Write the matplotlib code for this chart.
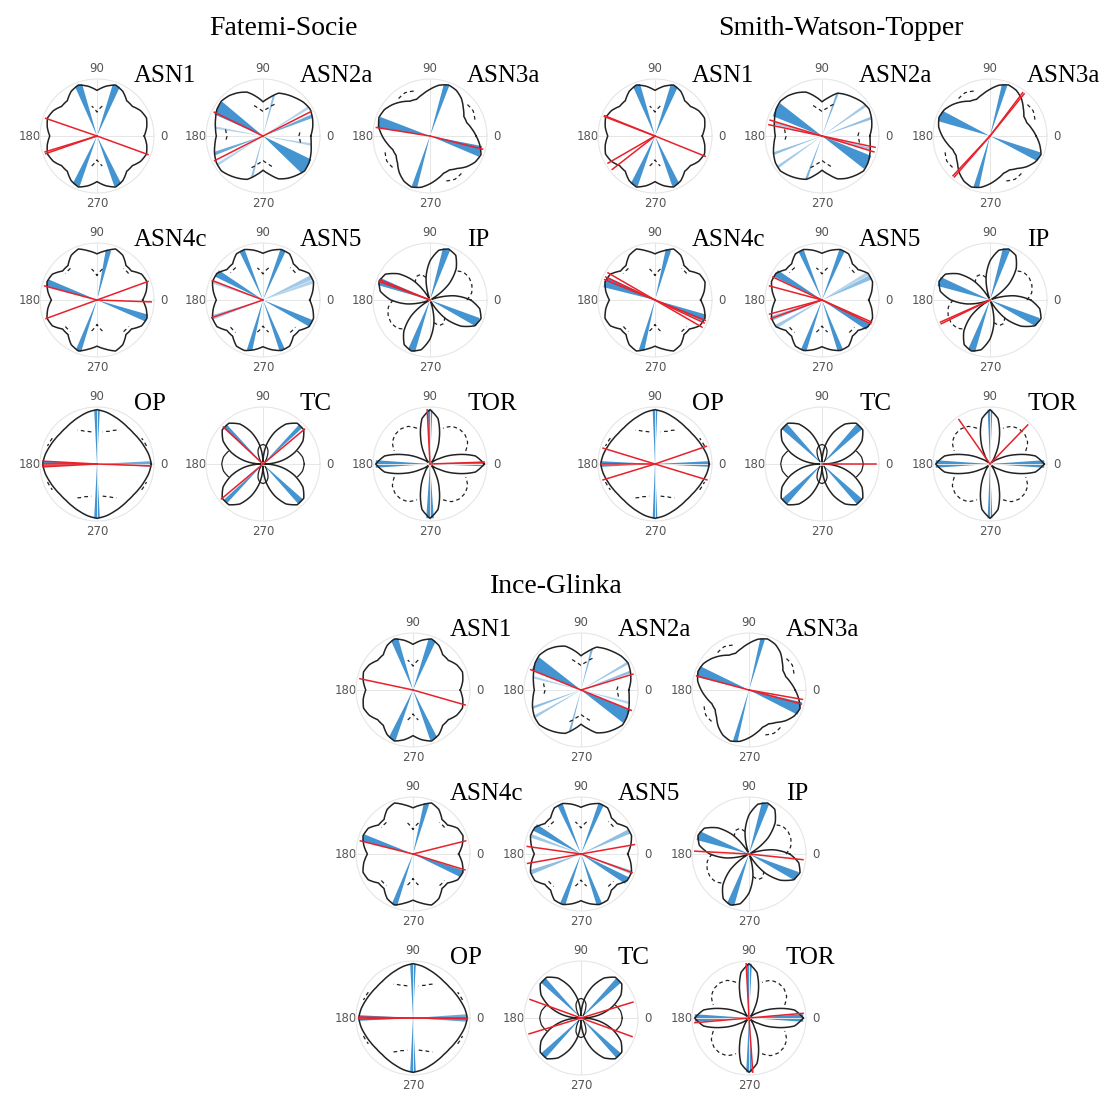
import numpy as np
import matplotlib
matplotlib.use("Agg")
import matplotlib.pyplot as plt

N = np.nan

# sample angles (deg) of the polar curves
THETA_DEG = list(range(0, 360, 10))

PATHS = ["ASN1", "ASN2a", "ASN3a", "ASN4c", "ASN5", "IP", "OP", "TC", "TOR"]
CRITERIA = ["Fatemi-Socie", "Smith-Watson-Topper", "Ince-Glinka"]

# ---- solid / second (dashed) curves, one value every 10 deg ----
ASN1_SOLID = [0.87, 0.93, 0.97, 0.93, 0.85, 0.85, 0.95, 1.00, 0.93,
              0.84, 0.93, 1.00, 0.95, 0.85, 0.85, 0.93, 0.97, 0.93,
              0.87, 0.93, 0.97, 0.93, 0.85, 0.85, 0.95, 1.00, 0.93,
              0.84, 0.93, 1.00, 0.95, 0.85, 0.85, 0.93, 0.97, 0.93]
ASN1_SECOND = [N, N, N, N, N, N, N, N, 0.56,
               0.44, 0.56, N, N, N, N, N, N, N,
               N, N, N, N, N, N, N, N, 0.56,
               0.44, 0.56, N, N, N, N, N, N, N]

ASN2A_SOLID = [0.88, 0.93, 0.97, 1.00, 0.97, 0.92, 0.88, 0.84, 0.72,
               0.63, 0.74, 0.86, 0.92, 0.97, 1.00, 0.98, 0.93, 0.89,
               0.86, 0.90, 0.95, 0.99, 1.00, 0.95, 0.90, 0.85, 0.73,
               0.63, 0.72, 0.84, 0.90, 0.95, 1.00, 0.98, 0.94, 0.90]
ASN2A_SECOND = [0.66, 0.70, N, N, N, N, N, 0.62, 0.52,
                0.45, 0.52, 0.62, N, N, N, N, N, 0.70,
                0.66, 0.70, N, N, N, N, N, 0.62, 0.52,
                0.45, 0.52, 0.62, N, N, N, N, N, 0.70]

ASN3A_SOLID = [0.85, 0.78, 0.72, 0.72, 0.80, 0.90, 0.97, 1.00, 0.95,
               0.86, 0.78, 0.72, 0.74, 0.82, 0.90, 0.97, 1.00, 0.96,
               0.88, 0.80, 0.73, 0.72, 0.78, 0.88, 0.96, 1.00, 0.96,
               0.88, 0.80, 0.73, 0.72, 0.78, 0.88, 0.96, 1.00, 0.93]
ASN3A_SECOND = [N, N, 0.88, 0.92, 0.90, N, N, N, N,
                N, N, 0.88, 0.92, 0.90, N, N, N, N,
                N, N, 0.88, 0.92, 0.90, N, N, N, N,
                N, N, 0.88, 0.92, 0.90, N, N, N, N]

ASN4C_SOLID = [0.84, 0.92, 0.98, 0.95, 0.83, 0.83, 0.95, 1.00, 0.92,
               0.85, 0.92, 1.00, 0.95, 0.83, 0.83, 0.95, 0.98, 0.92,
               0.84, 0.92, 0.98, 0.95, 0.83, 0.83, 0.95, 1.00, 0.92,
               0.85, 0.92, 1.00, 0.95, 0.83, 0.83, 0.95, 0.98, 0.92]
ASN4C_SECOND = [N, N, N, N, 0.76, 0.76, N, N, 0.58,
                0.45, 0.58, N, N, 0.76, 0.76, N, N, N,
                N, N, N, N, 0.76, 0.76, N, N, 0.58,
                0.45, 0.58, N, N, 0.76, 0.76, N, N, N]

ASN5_SOLID = [0.86, 0.93, 0.99, 0.98, 0.87, 0.87, 0.98, 0.99, 0.93,
              0.86, 0.93, 0.99, 0.98, 0.87, 0.87, 0.98, 0.99, 0.93,
              0.86, 0.93, 0.99, 0.98, 0.87, 0.87, 0.98, 0.99, 0.93,
              0.86, 0.93, 0.99, 0.98, 0.87, 0.87, 0.98, 0.99, 0.93]
ASN5_SECOND = [N, N, N, N, 0.78, 0.78, N, N, 0.60,
               0.48, 0.60, N, N, 0.78, 0.78, N, N, N,
               N, N, N, N, 0.78, 0.78, N, N, 0.60,
               0.48, 0.60, N, N, 0.78, 0.78, N, N, N]

IP_SOLID = [0.75, 0.45, 0.04, 0.04, 0.45, 0.75, 0.95, 1.00, 0.93,
            0.72, 0.42, 0.04, 0.04, 0.45, 0.75, 0.95, 1.00, 0.93,
            0.72, 0.42, 0.04, 0.04, 0.45, 0.75, 0.95, 1.00, 0.93,
            0.72, 0.42, 0.04, 0.04, 0.45, 0.75, 0.95, 1.00, 0.93]
IP_SECOND = [0.68, 0.78, 0.82, 0.83, 0.80, 0.70, N, N, N,
             N, 0.42, 0.50, 0.50, 0.42, N, N, N, N,
             0.68, 0.78, 0.82, 0.83, 0.80, 0.70, N, N, N,
             N, 0.42, 0.50, 0.50, 0.42, N, N, N, N]

OP_SOLID = [1.00, 0.97, 0.93, 0.90, 0.88, 0.88, 0.90, 0.93, 0.97,
            1.00, 0.97, 0.93, 0.90, 0.88, 0.88, 0.90, 0.93, 0.97,
            1.00, 0.97, 0.93, 0.90, 0.88, 0.88, 0.90, 0.93, 0.97,
            1.00, 0.97, 0.93, 0.90, 0.88, 0.88, 0.90, 0.93, 0.97]
OP_SECOND = [N, N, 0.97, 0.95, N, N, 0.72, 0.64, 0.60,
             N, 0.60, 0.64, 0.72, N, N, 0.95, 0.97, N,
             N, N, 0.97, 0.95, N, N, 0.72, 0.64, 0.60,
             N, 0.60, 0.64, 0.72, N, N, 0.95, 0.97, N]

TC_SOLID = [0.04, 0.35, 0.62, 0.85, 0.98, 0.98, 0.85, 0.62, 0.35,
            0.04, 0.35, 0.62, 0.85, 0.98, 0.98, 0.85, 0.62, 0.35,
            0.04, 0.35, 0.62, 0.85, 0.98, 0.98, 0.85, 0.62, 0.35,
            0.04, 0.35, 0.62, 0.85, 0.98, 0.98, 0.85, 0.62, 0.35]
TC_SECOND = [0.76, 0.74, 0.68, N, N, 0.06, 0.15, 0.27, 0.34,
             0.36, 0.34, 0.27, 0.15, 0.06, N, N, 0.68, 0.74,
             0.76, 0.74, 0.68, N, N, 0.06, 0.15, 0.27, 0.34,
             0.36, 0.34, 0.27, 0.15, 0.06, N, N, 0.68, 0.74]

TOR_SOLID = [1.00, 0.85, 0.50, 0.20, 0.05, 0.05, 0.20, 0.50, 0.85,
             1.00, 0.85, 0.50, 0.20, 0.05, 0.05, 0.20, 0.50, 0.85,
             1.00, 0.85, 0.50, 0.20, 0.05, 0.05, 0.20, 0.50, 0.85,
             1.00, 0.85, 0.50, 0.20, 0.05, 0.05, 0.20, 0.50, 0.85]
TOR_SECOND = [N, N, 0.70, 0.80, 0.84, 0.84, 0.80, 0.70, N,
              N, N, 0.70, 0.80, 0.84, 0.84, 0.80, 0.70, N,
              N, N, 0.70, 0.80, 0.84, 0.84, 0.80, 0.70, N,
              N, N, 0.70, 0.80, 0.84, 0.84, 0.80, 0.70, N]

# ---- blue wedges: (angle deg, width deg, weight) per criterion ----
FS_WEDGES = {
    "ASN1": [(69, 8, 1), (110, 8, 1), (247, 8, 1), (293, 8, 1)],
    "ASN2a": [(148, 16, 1), (325, 18, 1), (200, 4, 0.8), (22, 4, 0.8), (75, 3, 0.6),
              (255, 3, 0.6), (170, 3, 0.4), (350, 3, 0.4), (32, 3, 0.4), (212, 3, 0.4)],
    "ASN3a": [(165, 12, 1), (343, 12, 1), (72, 6, 1), (253, 6, 1)],
    "ASN4c": [(77, 6, 1), (250, 6, 1), (161, 8, 1), (340, 8, 1)],
    "ASN5": [(68, 6, 1), (113, 6, 1), (150, 8, 1), (199, 5, 0.5), (255, 6, 1),
             (291, 6, 1), (334, 8, 1), (25, 5, 0.5), (160, 4, 0.4), (20, 4, 0.4)],
    "IP": [(72, 8, 1), (160, 8, 1), (250, 8, 1), (335, 10, 1)],
    "OP": [(90, 6, 1), (270, 6, 1), (0, 6, 0.8), (180, 6, 1)],
    "TC": [(45, 5, 1), (135, 5, 1), (225, 5, 1), (315, 7, 1)],
    "TOR": [(90, 5, 1), (180, 8, 1), (270, 8, 1), (0, 5, 1)],
}
SWT_WEDGES = {
    "ASN1": [(69, 8, 1), (110, 8, 1), (247, 8, 1), (293, 8, 1)],
    "ASN2a": [(150, 16, 1), (330, 16, 1), (70, 3, 0.7), (250, 3, 0.7), (20, 3, 0.6),
              (200, 3, 0.6), (35, 3, 0.5), (215, 3, 0.5), (165, 3, 0.5), (345, 3, 0.5)],
    "ASN3a": [(158, 12, 1), (337, 10, 1), (74, 6, 1), (255, 6, 1)],
    "ASN4c": [(75, 6, 1), (255, 6, 1), (160, 12, 1), (340, 8, 1)],
    "ASN5": [(68, 6, 1), (113, 6, 1), (150, 8, 1), (200, 5, 0.6), (250, 6, 1),
             (290, 6, 1), (330, 8, 1), (25, 5, 0.6), (210, 4, 0.5), (30, 4, 0.4)],
    "IP": [(72, 8, 1), (160, 10, 1), (250, 8, 1), (335, 10, 1)],
    "OP": [(90, 5, 1), (270, 5, 1), (0, 6, 1), (180, 6, 1)],
    "TC": [(45, 8, 1), (135, 8, 1), (225, 8, 1), (315, 8, 1)],
    "TOR": [(90, 5, 1), (270, 5, 1), (0, 8, 1), (180, 8, 1)],
}
IG_WEDGES = {
    "ASN1": [(69, 8, 1), (110, 8, 1), (247, 8, 1), (293, 8, 1)],
    "ASN2a": [(150, 16, 1), (330, 16, 1), (75, 3, 0.7), (255, 3, 0.7), (20, 3, 0.6),
              (200, 3, 0.6), (30, 3, 0.5), (210, 3, 0.5), (165, 3, 0.4), (345, 3, 0.4)],
    "ASN3a": [(160, 12, 1), (340, 14, 1), (75, 5, 1), (255, 5, 1)],
    "ASN4c": [(75, 6, 1), (250, 6, 1), (162, 8, 1), (338, 8, 1)],
    "ASN5": [(68, 6, 1), (113, 6, 1), (150, 8, 1), (200, 5, 0.6), (250, 6, 1),
             (290, 6, 1), (330, 8, 1), (25, 5, 0.6), (160, 4, 0.5), (340, 4, 0.5)],
    "IP": [(72, 8, 1), (160, 10, 1), (250, 8, 1), (335, 10, 1)],
    "OP": [(90, 6, 1), (270, 6, 1), (0, 8, 0.8), (180, 6, 1)],
    "TC": [(45, 7, 1), (135, 7, 1), (225, 7, 1), (315, 7, 1)],
    "TOR": [(90, 6, 1), (270, 6, 1), (0, 8, 1), (180, 8, 1)],
}

# ---- red rays (deg) per criterion ----
FS_RAYS = {
    "ASN1": [161, 340, 197, 199], "ASN2a": [154, 27, 207], "ASN3a": [171, 346],
    "ASN4c": [165, 200, 20, 358], "ASN5": [159, 199], "IP": [158, 160],
    "OP": [177, 180, 183, 358], "TC": [40, 220, 137], "TOR": [93, 2],
}
SWT_RAYS = {
    "ASN1": [158, 159, 338, 210, 218], "ASN2a": [163, 168, 343, 348],
    "ASN3a": [51, 53, 227, 229], "ASN4c": [150, 155, 158, 330, 335, 338],
    "ASN5": [155, 165, 195, 200, 334, 336], "IP": [204, 206],
    "OP": [163, 343, 197, 19, 180], "TC": [0], "TOR": [46, 125],
}
IG_RAYS = {
    "ASN1": [168, 344], "ASN2a": [158, 338, 17], "ASN3a": [165, 345, 350],
    "ASN4c": [166, 343, 14], "ASN5": [172, 340, 190, 10], "IP": [177, 354],
    "OP": [179, 181, 0, 359], "TC": [17, 197, 160, 340], "TOR": [93, 274, 185, 5],
}

SOLID = {"ASN1": ASN1_SOLID, "ASN2a": ASN2A_SOLID, "ASN3a": ASN3A_SOLID,
         "ASN4c": ASN4C_SOLID, "ASN5": ASN5_SOLID, "IP": IP_SOLID,
         "OP": OP_SOLID, "TC": TC_SOLID, "TOR": TOR_SOLID}
SECOND = {"ASN1": ASN1_SECOND, "ASN2a": ASN2A_SECOND, "ASN3a": ASN3A_SECOND,
          "ASN4c": ASN4C_SECOND, "ASN5": ASN5_SECOND, "IP": IP_SECOND,
          "OP": OP_SECOND, "TC": TC_SECOND, "TOR": TOR_SECOND}
WEDGES = dict(zip(CRITERIA, [FS_WEDGES, SWT_WEDGES, IG_WEDGES]))
RAYS = dict(zip(CRITERIA, [FS_RAYS, SWT_RAYS, IG_RAYS]))

# ---- layout (pixels) ----
W, H = 1115, 1095
RAD = 57
COLS = {"Fatemi-Socie": [97, 263, 430],
        "Smith-Watson-Topper": [655, 822, 990],
        "Ince-Glinka": [413, 581, 749]}
ROWS = {"Fatemi-Socie": [136, 300, 464],
        "Smith-Watson-Topper": [136, 300, 464],
        "Ince-Glinka": [690, 854, 1018]}
GROUP_TITLE = {"Fatemi-Socie": (283, 35),
               "Smith-Watson-Topper": (841, 35),
               "Ince-Glinka": (556, 593)}

BLUE = "#4394d0"
RED = "#e8212b"
INK = "#222222"
SERIF = ["Liberation Serif", "DejaVu Serif"]
SOLID_SECOND = {"TC"}
RAY_LEN = 1.0


def draw_panel(ax, path, wedges, rays):
    th_deg = THETA_DEG + [360]
    th = np.deg2rad(th_deg)
    solid = SOLID[path] + SOLID[path][:1]
    second = SECOND[path] + SECOND[path][:1]

    for ang, width, weight in wedges:
        h = np.interp(ang % 360, th_deg, solid)
        ax.bar(np.deg2rad(ang), h, width=np.deg2rad(width), bottom=0,
               color=BLUE, alpha=weight, linewidth=0, zorder=1)

    ls = "-" if path in SOLID_SECOND else (0, (3, 2.5))
    l2, = ax.plot(th, second, color=INK, lw=0.9, ls=ls, zorder=2)
    l1, = ax.plot(th, solid, color=INK, lw=1.1, zorder=2)
    for ln in (l1, l2):
        ln.get_path()._interpolation_steps = 8

    for ang in rays:
        a = np.deg2rad(ang)
        ax.plot([a, a], [0, RAY_LEN], color=RED, lw=1.1, zorder=3)

    ax.set_rlim(0, 1.05)
    ax.set_yticks([])
    ax.set_thetagrids([0, 90, 180, 270], labels=["0", "90", "180", "270"],
                      fontsize=8.5, color="#555555")
    ax.tick_params(axis="x", pad=-3.2)
    ax.xaxis.grid(True, color="#e6e6e6", lw=0.7)
    ax.spines["polar"].set_edgecolor("#e6e6e6")
    ax.spines["polar"].set_linewidth(0.8)


fig = plt.figure(figsize=(W / 100, H / 100), dpi=100)

for crit in CRITERIA:
    tx, ty = GROUP_TITLE[crit]
    fig.text(tx / W, 1 - ty / H, crit, ha="center", va="baseline",
             fontsize=20, family=SERIF)
    for i, path in enumerate(PATHS):
        cx = COLS[crit][i % 3]
        cy = ROWS[crit][i // 3]
        ax = fig.add_axes([(cx - RAD) / W, 1 - (cy + RAD) / H, 2 * RAD / W, 2 * RAD / H],
                          projection="polar")
        draw_panel(ax, path, WEDGES[crit][path], RAYS[crit][path])
        fig.text((cx + 37) / W, 1 - (cy - 54) / H, path, ha="left", va="baseline",
                 fontsize=18, family=SERIF)

fig.savefig("out.png", dpi=100, facecolor="white")
